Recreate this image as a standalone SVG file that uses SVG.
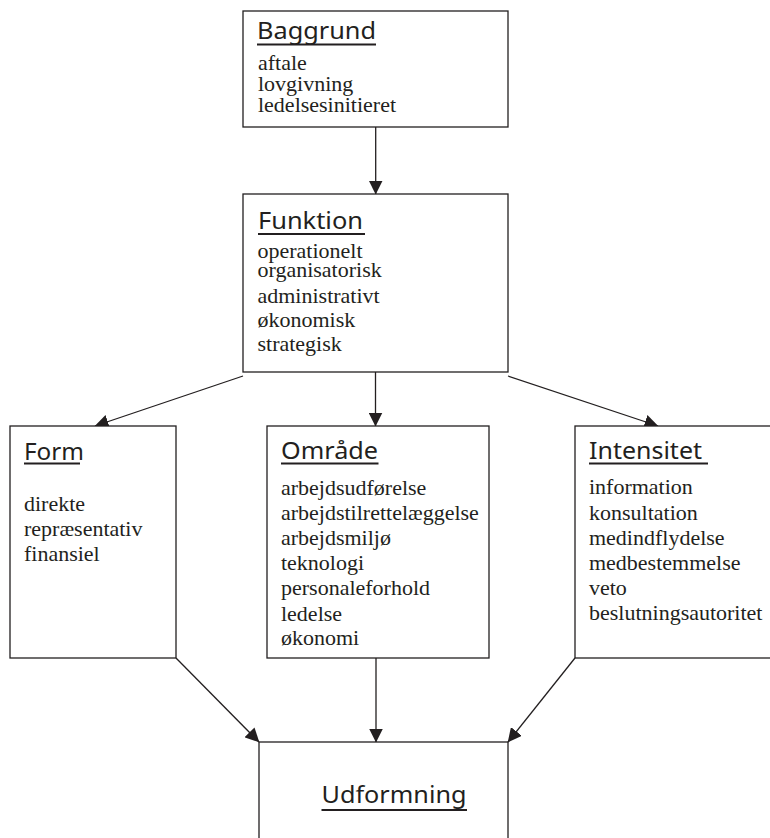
<svg xmlns="http://www.w3.org/2000/svg" width="770" height="838" viewBox="0 0 770 838">
<style>
  .box { fill: #ffffff; stroke: #231f20; stroke-width: 1.3; }
  .title { font-family: "Noto Sans", "Open Sans", "DejaVu Sans", sans-serif; font-size: 23px; fill: #231f20; }
  .ul { stroke: #231f20; stroke-width: 2.2; }
  .body { font-family: "Liberation Serif", "Times New Roman", serif; font-size: 20px; fill: #231f20; }
  .conn { stroke: #231f20; stroke-width: 1.3; fill: none; marker-end: url(#arrow); }
</style>
<defs>
  <marker id="arrow" markerUnits="userSpaceOnUse" markerWidth="14" markerHeight="14" viewBox="0 0 14 14" refX="13.5" refY="7" orient="auto">
    <path d="M0,0 L14,7 L0,14 z" fill="#231f20"/>
  </marker>
</defs>
<rect width="770" height="838" fill="#ffffff"/>

<g id="connectors">
  <line class="conn" x1="375.7" y1="127" x2="375.7" y2="194"/>
  <line class="conn" x1="243" y1="376" x2="95" y2="426"/>
  <line class="conn" x1="375.5" y1="372" x2="375.5" y2="426"/>
  <line class="conn" x1="508" y1="376" x2="658" y2="426"/>
  <line class="conn" x1="176" y1="658" x2="259" y2="742"/>
  <line class="conn" x1="376" y1="658" x2="376" y2="742"/>
  <line class="conn" x1="575" y1="658" x2="508" y2="742"/>
</g>

<g id="baggrund">
  <rect class="box" x="243" y="11" width="265" height="116"/>
  <text class="title" x="257" y="39" textLength="119" lengthAdjust="spacingAndGlyphs">Baggrund</text>
  <line class="ul" x1="257" y1="44.5" x2="376" y2="44.5"/>
  <g transform="translate(258,0) scale(1.1,1)">
    <text class="body"><tspan x="0" y="70.5">aftale</tspan><tspan x="0" y="91">lovgivning</tspan><tspan x="0" y="112">ledelsesinitieret</tspan></text>
  </g>
</g>

<g id="funktion">
  <rect class="box" x="243" y="194" width="265" height="178"/>
  <text class="title" x="258" y="228.5" textLength="105" lengthAdjust="spacingAndGlyphs">Funktion</text>
  <line class="ul" x1="258" y1="234" x2="365" y2="234"/>
  <g transform="translate(257.5,0) scale(1.1,1)">
    <text class="body"><tspan x="0" y="258">operationelt</tspan><tspan x="0" y="277">organisatorisk</tspan><tspan x="0" y="303">administrativt</tspan><tspan x="0" y="327">økonomisk</tspan><tspan x="0" y="351">strategisk</tspan></text>
  </g>
</g>

<g id="form">
  <rect class="box" x="10" y="426" width="166" height="232"/>
  <text class="title" x="24" y="460" textLength="60" lengthAdjust="spacingAndGlyphs">Form</text>
  <line class="ul" x1="24" y1="463.5" x2="80" y2="463.5"/>
  <g transform="translate(24,0) scale(1.1,1)">
    <text class="body"><tspan x="0" y="511.5">direkte</tspan><tspan x="0" y="536">repræsentativ</tspan><tspan x="0" y="561.5">finansiel</tspan></text>
  </g>
</g>

<g id="omraade">
  <rect class="box" x="267" y="426" width="222" height="232"/>
  <text class="title" x="281" y="459" textLength="97" lengthAdjust="spacingAndGlyphs">Område</text>
  <line class="ul" x1="281" y1="463.5" x2="378.5" y2="463.5"/>
  <g transform="translate(281,0) scale(1.1,1)">
    <text class="body"><tspan x="0" y="495">arbejdsudførelse</tspan><tspan x="0" y="520">arbejdstilrettelæggelse</tspan><tspan x="0" y="545">arbejdsmiljø</tspan><tspan x="0" y="570">teknologi</tspan><tspan x="0" y="595.5">personaleforhold</tspan><tspan x="0" y="621">ledelse</tspan><tspan x="0" y="645">økonomi</tspan></text>
  </g>
</g>

<g id="intensitet">
  <rect class="box" x="575" y="426" width="215" height="232"/>
  <text class="title" x="589" y="458.5" textLength="113" lengthAdjust="spacingAndGlyphs">Intensitet</text>
  <line class="ul" x1="589" y1="463.5" x2="708" y2="463.5"/>
  <g transform="translate(589,0) scale(1.1,1)">
    <text class="body"><tspan x="0" y="494">information</tspan><tspan x="0" y="520">konsultation</tspan><tspan x="0" y="545">medindflydelse</tspan><tspan x="0" y="570.5">medbestemmelse</tspan><tspan x="0" y="595">veto</tspan><tspan x="0" y="620.5">beslutningsautoritet</tspan></text>
  </g>
</g>

<g id="udformning">
  <rect class="box" x="259" y="742" width="249" height="130"/>
  <text class="title" x="321.5" y="802.5" textLength="145" lengthAdjust="spacingAndGlyphs">Udformning</text>
  <line class="ul" x1="321.5" y1="810" x2="467" y2="810"/>
</g>
</svg>
